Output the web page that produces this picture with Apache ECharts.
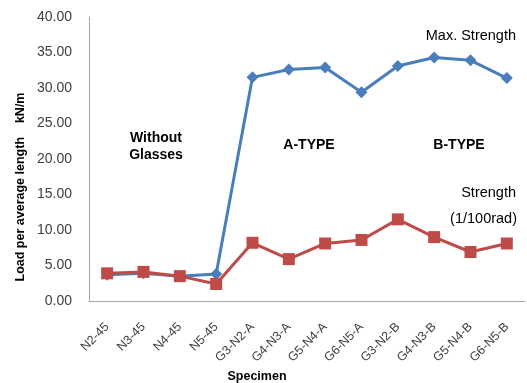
<!DOCTYPE html>
<html><head><meta charset="utf-8">
<script src="https://cdn.jsdelivr.net/npm/echarts@6/dist/echarts.min.js"></script>
<style>html,body{margin:0;padding:0;background:#fff}#c{width:527px;height:383px}</style>
</head><body><div id="c"></div>
<script>
const categories = ['N2-45','N3-45','N4-45','N5-45','G3-N2-A','G4-N3-A','G5-N4-A','G6-N5-A','G3-N2-B','G4-N3-B','G5-N4-B','G6-N5-B'];
const maxStrength = [3.7, 3.9, 3.5, 3.8, 31.5, 32.6, 32.9, 29.4, 33.1, 34.3, 33.9, 31.4];
const strength100 = [3.9, 4.1, 3.5, 2.4, 8.2, 5.9, 8.1, 8.6, 11.5, 9.0, 6.9, 8.1];
const yTicks = {min: 0, max: 40, interval: 5};

const chart = echarts.init(document.getElementById('c'));
chart.setOption({
  animation: false,
  grid: {left: 89, right: 2, top: 17, bottom: 82, outerBoundsMode: 'none', containLabel: false},
  xAxis: {
    type: 'category', data: categories, boundaryGap: true,
    axisLine: {lineStyle: {color: '#a6a6a6'}},
    axisTick: {show: false},
    axisLabel: {rotate: 45, color: '#404040', fontSize: 12.5, fontFamily: 'Liberation Sans', margin: 24, interval: 0}
  },
  yAxis: {
    type: 'value', min: yTicks.min, max: yTicks.max, interval: yTicks.interval,
    axisLine: {show: true, lineStyle: {color: '#a6a6a6'}},
    axisTick: {show: false},
    splitLine: {show: false},
    axisLabel: {color: '#404040', fontSize: 14, fontFamily: 'Liberation Sans', margin: 17, formatter: v => v.toFixed(2)}
  },
  series: [
    {type: 'line', data: maxStrength, symbol: 'diamond', symbolSize: 12,
     itemStyle: {color: '#4a7ebb'}, lineStyle: {color: '#4a7ebb', width: 3}},
    {type: 'line', data: strength100, symbol: 'rect', symbolSize: 12,
     itemStyle: {color: '#be4b48'}, lineStyle: {color: '#be4b48', width: 3}}
  ],
  graphic: [
    {type: 'text', x: 21, y: 187, rotation: Math.PI/2, style: {text: 'Load per average length    kN/m', font: 'bold 12.5px "Liberation Sans"', fill: '#000', align: 'center', verticalAlign: 'middle'}},
    {type: 'text', x: 257, y: 377, style: {text: 'Specimen', font: 'bold 12.5px "Liberation Sans"', fill: '#000', align: 'center', verticalAlign: 'middle'}},
    {type: 'text', x: 156, y: 147, style: {text: 'Without\nGlasses', font: 'bold 14px "Liberation Sans"', fill: '#000', align: 'center', verticalAlign: 'middle', lineHeight: 17}},
    {type: 'text', x: 309, y: 145, style: {text: 'A-TYPE', font: 'bold 14px "Liberation Sans"', fill: '#000', align: 'center', verticalAlign: 'middle'}},
    {type: 'text', x: 459, y: 145, style: {text: 'B-TYPE', font: 'bold 14px "Liberation Sans"', fill: '#000', align: 'center', verticalAlign: 'middle'}},
    {type: 'text', x: 516, y: 36, style: {text: 'Max. Strength', font: '14.5px "Liberation Sans"', fill: '#000', align: 'right', verticalAlign: 'middle'}},
    {type: 'text', x: 516, y: 193, style: {text: 'Strength', font: '14.5px "Liberation Sans"', fill: '#000', align: 'right', verticalAlign: 'middle'}},
    {type: 'text', x: 517, y: 219, style: {text: '(1/100rad)', font: '14.5px "Liberation Sans"', fill: '#000', align: 'right', verticalAlign: 'middle'}}
  ]
});
</script>
</body></html>
